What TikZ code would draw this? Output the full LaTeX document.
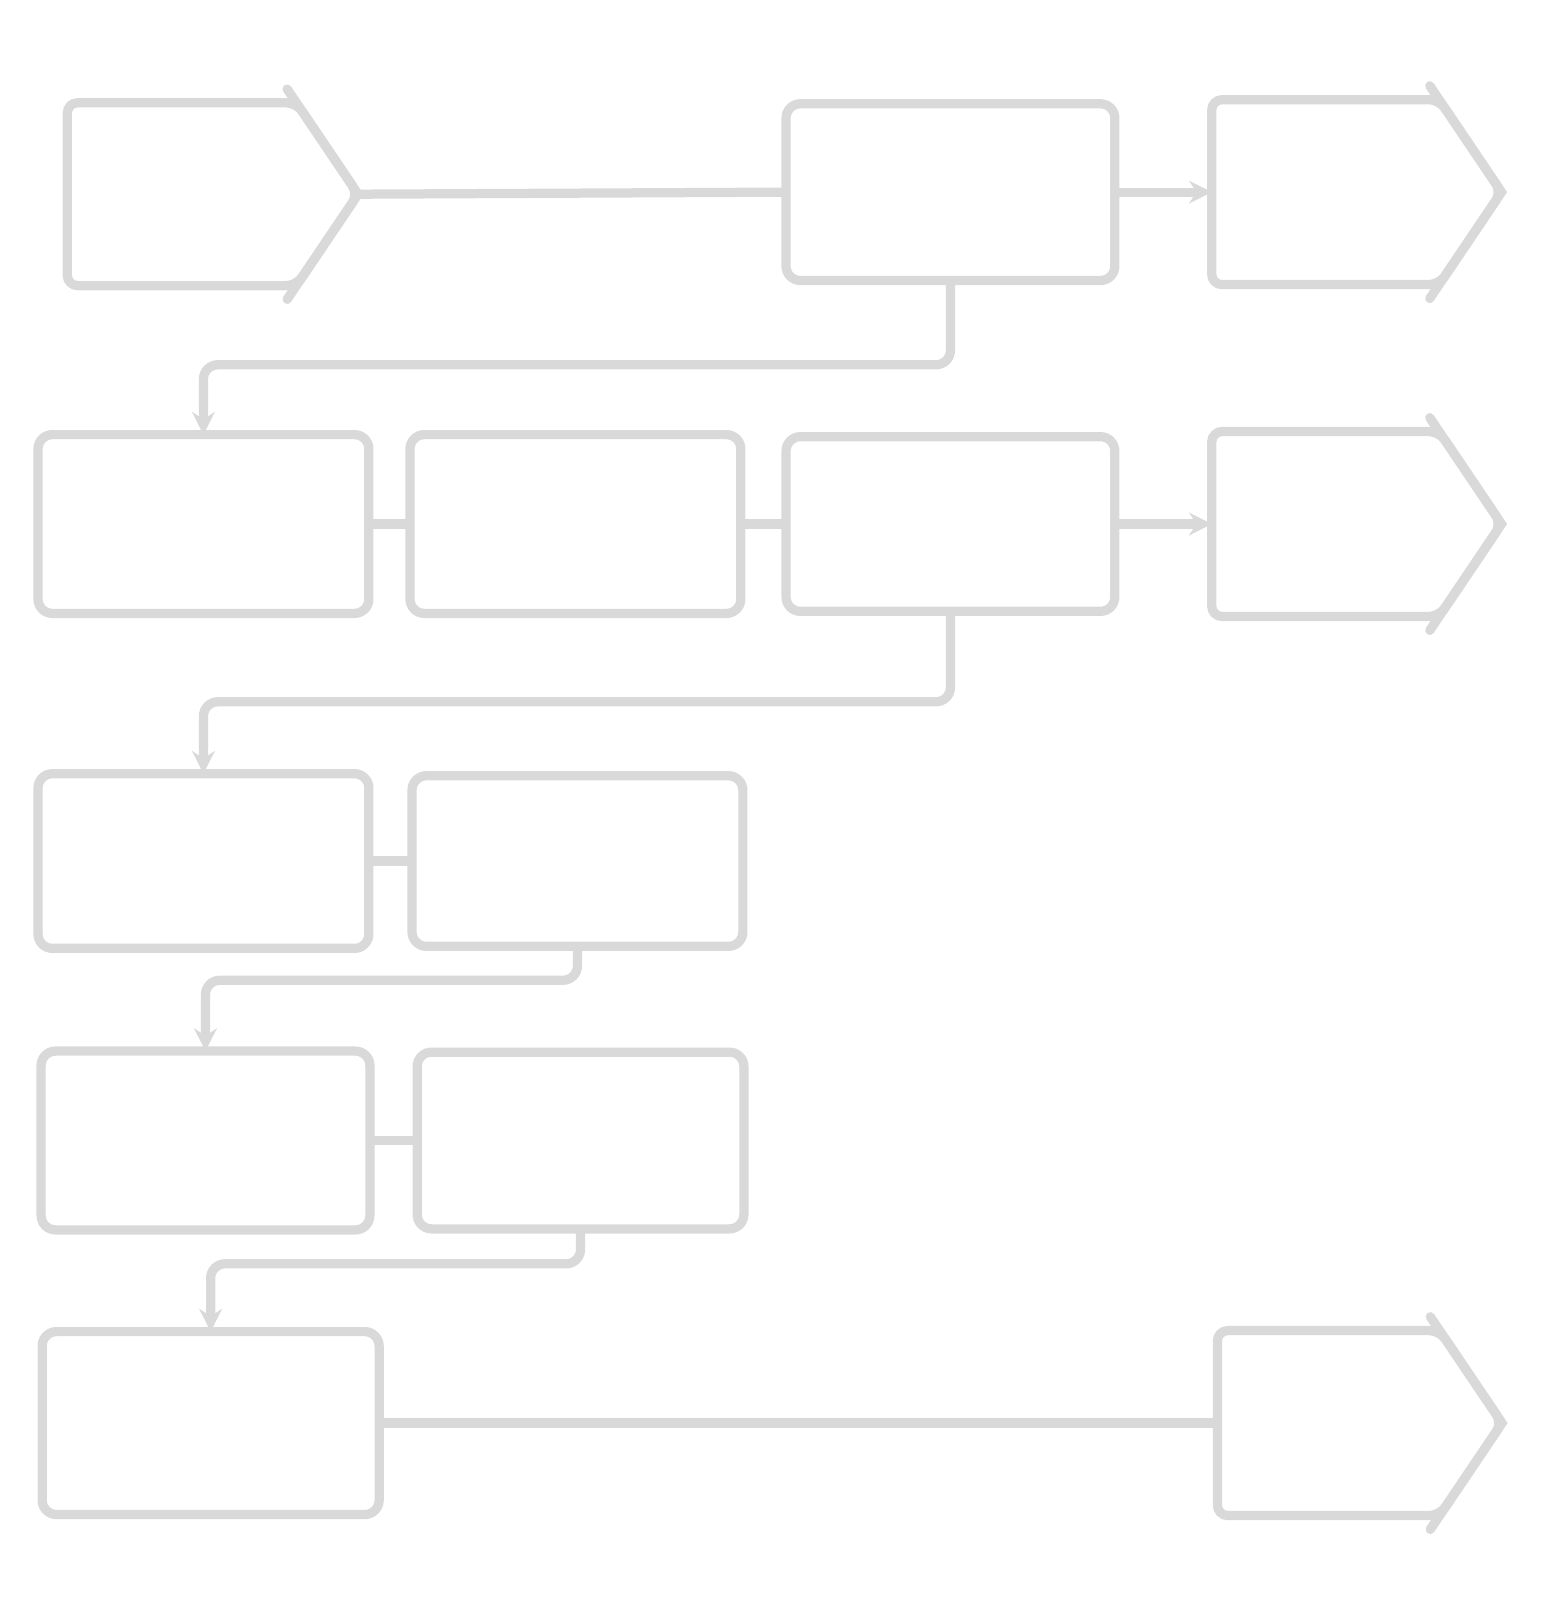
\documentclass[tikz,border=0pt]{standalone}
\usetikzlibrary{shapes.symbols,calc,arrows.meta}
\begin{document}
\begin{tikzpicture}[x=1pt,y=-1pt,inner sep=0pt,outer sep=0pt,line width=9pt,
stepbox/.style={draw=gray!30,rectangle,rounded corners=14pt,minimum width=322pt,minimum height=174pt},
endbox/.style={draw=gray!30,signal,signal to=east,signal pointer angle=112,rounded corners=10pt,minimum width=282pt,minimum height=180pt},
link/.style={draw=gray!30,rounded corners=14pt}]
\useasboundingbox (0,0) rectangle (1500,1565);
\draw (177,189) node[endbox,minimum width=283pt,minimum height=178pt] (start) {};
\draw (925,187) node[stepbox,minimum width=320pt,minimum height=172pt] (check1) {};
\draw (1290,187) node[endbox] (exit1) {};
\draw (198,510) node[stepbox] (test1) {};
\draw (560,510) node[stepbox] (test2) {};
\draw (925,510) node[stepbox,minimum width=320pt,minimum height=170pt] (check2) {};
\draw (1290,510) node[endbox] (exit2) {};
\draw (198,838) node[stepbox,minimum height=170pt] (test3) {};
\draw (562,838) node[stepbox,minimum height=166pt] (test4) {};
\draw (200,1110) node[stepbox,minimum width=320pt] (test5) {};
\draw (565,1110) node[stepbox,minimum width=318pt,minimum height=172pt] (test6) {};
\draw (205,1385) node[stepbox,minimum width=328pt,minimum height=178pt] (repair) {};
\draw (1293,1385) node[endbox,minimum width=277pt] (exit3) {};
% chevron ticks
\foreach \s in {start,exit1,exit2,exit3}
  \draw[draw=gray!30,line cap=round] ($(\s.east)!1.15!(\s.north east)$) -- (\s.east) -- ($(\s.east)!1.15!(\s.south east)$);
\draw[link] (start.east) -- (check1.west);
\draw[link,-{Stealth[length=22pt,width=22pt]}] (check1.east) -- (exit1.west);
\draw[link,-{Stealth[length=22pt,width=22pt]}] (check1.south) -- ++(0,82) -| (test1.north);
\draw[link] (test1.east) -- (test2.west);
\draw[link] (test2.east) -- (check2.west);
\draw[link,-{Stealth[length=22pt,width=22pt]}] (check2.east) -- (exit2.west);
\draw[link,-{Stealth[length=22pt,width=22pt]}] (check2.south) -- ++(0,88) -| (test3.north);
\draw[link] (test3.east) -- (test4.west);
\draw[link,-{Stealth[length=22pt,width=22pt]}] (test4.south) -- ++(0,33) -| (test5.north);
\draw[link] (test5.east) -- (test6.west);
\draw[link,-{Stealth[length=22pt,width=22pt]}] (test6.south) -- ++(0,34) -| (repair.north);
\draw[link] (repair.east) -- (exit3.west);
\end{tikzpicture}
\end{document}
